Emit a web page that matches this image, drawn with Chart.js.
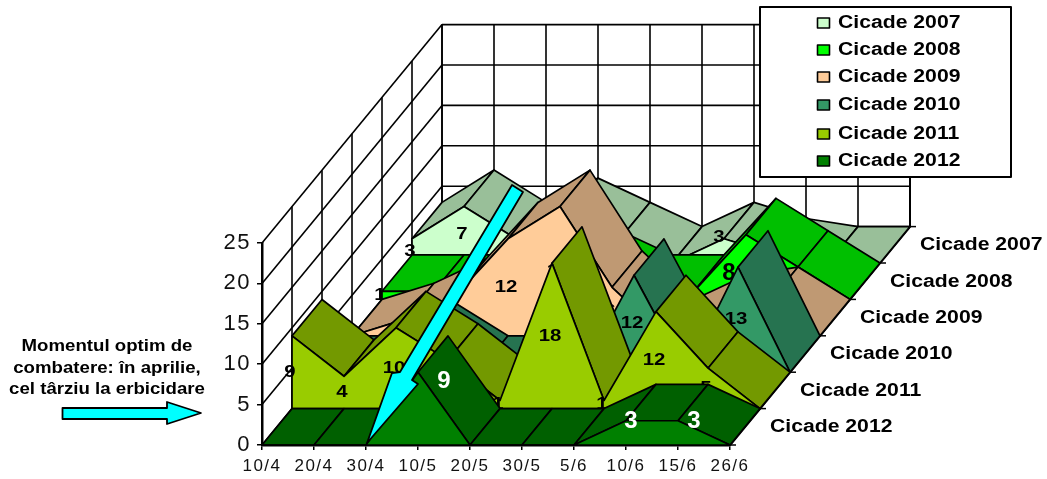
<!DOCTYPE html>
<html>
<head>
<meta charset="utf-8">
<title>Cicade</title>
<script src="https://cdn.jsdelivr.net/npm/chart.js@4/dist/chart.umd.min.js"></script>
<style>
  html, body { margin: 0; padding: 0; background: #fff; }
  canvas { display: block; }
</style>
</head>
<body>
<canvas id="chart" width="1047" height="479"></canvas>
<script>
// Dates and series, back row first
const categories = ['10/4', '20/4', '30/4', '10/5', '20/5', '30/5', '5/6', '10/6', '15/6', '26/6'];
const seriesNames = ['Cicade 2007', 'Cicade 2008', 'Cicade 2009', 'Cicade 2010', 'Cicade 2011', 'Cicade 2012'];

const cicade2007 = [3, 7, 3, 6, 3, 0, 3, 1, 0, 0];
const cicade2008 = [1, 1, 1, 1, 4, 1, 1, 8, 4, 0];
const cicade2009 = [0, 2, 5, 12, 16, 6, 0, 3, 4, 0];
const cicade2010 = [0, 0, 4, 0, 0, 0, 12, 0, 13, 0];
const cicade2011 = [9, 4, 10, 6, 1, 18, 1, 12, 5, 0];
const cicade2012 = [0, 0, 0, 9, 0, 0, 0, 3, 3, 0];

const seriesValues = [cicade2007, cicade2008, cicade2009, cicade2010, cicade2011, cicade2012];

const faceColors = ['#ccffcc', '#00ff00', '#ffcc99', '#339966', '#99cc00', '#008000'];
const topColors = ['#99bf99', '#00bf00', '#bf9973', '#267350', '#739900', '#006000'];

// Oblique projection: one row back moves a point this far on screen
const DEPTH_DX = 30;
const DEPTH_DY = 36.4;

const TEXT_FONT = '"Liberation Sans", Arial, sans-serif';

// Labels that sit away from the middle of their area
const labelTweaks = {
  '1,7': { dx: -15, dy: 6, size: 24 },
  '0,6': { dx: -3, dy: -14 },
  '5,3': { x: 444, y: 381, size: 24, color: '#fff' },
  '5,7': { x: 631, y: 421, size: 24, color: '#fff' },
  '5,8': { x: 694, y: 421, size: 24, color: '#fff' }
};

// Bold text stretched sideways, like the rest of the labels on this chart
function wideText(ctx, text, x, y, size, stretch, align, color) {
  ctx.save();
  ctx.font = 'bold ' + size + 'px ' + TEXT_FONT;
  ctx.fillStyle = color || '#000';
  ctx.textBaseline = 'middle';
  ctx.textAlign = align || 'left';
  ctx.translate(x, y);
  ctx.scale(stretch, 1);
  ctx.fillText(text, 0, 0);
  ctx.restore();
}

function polygon(ctx, pts, fill, lineWidth) {
  ctx.beginPath();
  pts.forEach((p, i) => (i ? ctx.lineTo(p[0], p[1]) : ctx.moveTo(p[0], p[1])));
  ctx.closePath();
  if (fill) {
    ctx.fillStyle = fill;
    ctx.fill();
  }
  ctx.lineWidth = lineWidth || 1.7;
  ctx.strokeStyle = '#000';
  ctx.lineJoin = 'round';
  ctx.stroke();
}

function segment(ctx, x1, y1, x2, y2, width) {
  ctx.beginPath();
  ctx.lineWidth = width;
  ctx.strokeStyle = '#000';
  ctx.moveTo(x1, y1);
  ctx.lineTo(x2, y2);
  ctx.stroke();
}

// Back wall, side wall and the right edge of the floor
function drawWalls(chart) {
  const ctx = chart.ctx;
  const xs = chart.scales.x;
  const ys = chart.scales.y;
  const rows = seriesNames.length;
  const backX = rows * DEPTH_DX;
  const backY = rows * DEPTH_DY;
  const base = ys.getPixelForValue(0);
  const top = ys.getPixelForValue(ys.max);

  ys.ticks.forEach(t => {
    const py = ys.getPixelForValue(t.value);
    segment(ctx, xs.left, py, xs.left + backX, py - backY, 1.6);
    segment(ctx, xs.left + backX, py - backY, xs.right + backX, py - backY, 1.6);
  });
  for (let k = 1; k <= rows; k++) {
    segment(ctx, xs.left + k * DEPTH_DX, base - k * DEPTH_DY, xs.left + k * DEPTH_DX, top - k * DEPTH_DY, 1.6);
  }
  categories.forEach((c, i) => {
    const px = xs.getPixelForValue(i) + backX;
    segment(ctx, px, base - backY, px, top - backY, i === categories.length - 1 ? 2 : 1.6);
  });

  segment(ctx, xs.right, base, xs.right + backX, base - backY, 2.4);
  for (let k = 0; k <= rows; k++) {
    const px = xs.right + k * DEPTH_DX;
    const py = base - k * DEPTH_DY;
    segment(ctx, px, py, px + 6, py, 1.5);
  }
}

// One ribbon per series, back row first so nearer rows cover it
function drawRibbons(chart) {
  const ctx = chart.ctx;
  const base = chart.scales.y.getPixelForValue(0);
  const rows = seriesNames.length;

  seriesValues.forEach((values, s) => {
    const k = rows - 1 - s;
    const points = chart.getDatasetMeta(s).data;
    const front = points.map(p => [p.x + k * DEPTH_DX, p.y - k * DEPTH_DY]);
    const back = front.map(p => [p[0] + DEPTH_DX, p[1] - DEPTH_DY]);

    for (let c = 0; c < front.length - 1; c++) {
      const ax = front[c + 1][0] - front[c][0];
      const ay = front[c + 1][1] - front[c][1];
      // slopes that face away are hidden behind the front of the ribbon
      if (ax * -DEPTH_DY - ay * DEPTH_DX >= 0) continue;
      polygon(ctx, [front[c], front[c + 1], back[c + 1], back[c]], topColors[s]);
    }

    const ground = base - k * DEPTH_DY;
    const outline = front.concat([[front[front.length - 1][0], ground], [front[0][0], ground]]);
    polygon(ctx, outline, faceColors[s]);

    values.forEach((v, c) => {
      if (!v) return;
      const tweak = labelTweaks[s + ',' + c] || {};
      const x = tweak.x !== undefined ? tweak.x : front[c][0] - 2 + (tweak.dx || 0);
      const y = tweak.y !== undefined ? tweak.y : (front[c][1] + ground) / 2 + (tweak.dy || 0);
      wideText(ctx, String(v), x, y, tweak.size || 17, tweak.size ? 1 : 1.2, 'center', tweak.color);
    });
  });
}

function drawRowNames(chart) {
  const xs = chart.scales.x;
  const base = chart.scales.y.getPixelForValue(0);
  const rows = seriesNames.length;
  seriesNames.forEach((name, s) => {
    const k = rows - 1 - s;
    wideText(chart.ctx, name, xs.right + (k + 0.5) * DEPTH_DX + 25, base - (k + 0.5) * DEPTH_DY + 0.5, 17.5, 1.21);
  });
}

function drawLegendBox(chart) {
  const ctx = chart.ctx;
  const rowY = [23, 50, 77, 105, 134, 161];
  ctx.fillStyle = '#fff';
  ctx.fillRect(760, 7, 251, 170);
  ctx.lineWidth = 2;
  ctx.strokeStyle = '#000';
  ctx.strokeRect(760, 7, 251, 170);
  chart.data.datasets.forEach((ds, s) => {
    ctx.fillStyle = faceColors[s];
    ctx.fillRect(817.5, rowY[s] - 5, 12, 10);
    ctx.lineWidth = 1.6;
    ctx.strokeRect(817.5, rowY[s] - 5, 12, 10);
    wideText(ctx, ds.label, 838, rowY[s] + 0.5, 17.5, 1.21);
  });
}

// The note on the left and the two cyan arrows
function drawNote(chart) {
  const ctx = chart.ctx;
  wideText(ctx, 'Momentul optim de', 107, 346, 16.5, 1.13, 'center');
  wideText(ctx, 'combatere: în aprilie,', 107, 368, 16.5, 1.13, 'center');
  wideText(ctx, 'cel târziu la erbicidare', 107, 389, 16.5, 1.13, 'center');

  polygon(ctx, [[62.5, 408], [167, 408], [167, 402], [201, 413], [167, 424], [167, 419], [62.5, 419]], '#00ffff', 1.8);
  polygon(ctx, [[512, 185], [523, 192], [412, 380], [418, 384], [367, 443], [392, 373], [400, 372]], '#00ffff', 1.8);
}

const ribbonPlugin = {
  id: 'ribbons',
  beforeDraw(chart) {
    chart.ctx.letterSpacing = '1.5px';
  },
  beforeDatasetsDraw(chart) {
    chart.ctx.letterSpacing = '0px';
    drawWalls(chart);
  },
  afterDatasetsDraw(chart) {
    drawRibbons(chart);
    drawRowNames(chart);
    drawLegendBox(chart);
    drawNote(chart);
  }
};

new Chart(document.getElementById('chart'), {
  type: 'line',
  data: {
    labels: categories,
    datasets: seriesNames.map((name, s) => ({
      label: name,
      data: seriesValues[s],
      backgroundColor: faceColors[s],
      borderColor: '#000',
      showLine: false,
      pointRadius: 0
    }))
  },
  options: {
    responsive: false,
    animation: false,
    layout: { padding: { left: 212, right: 317, top: 243, bottom: 4 } },
    plugins: {
      legend: { display: false },
      tooltip: { enabled: false }
    },
    scales: {
      x: {
        afterFit(scale) { scale.height = 30; },
        border: { color: '#000', width: 2.5 },
        grid: { drawOnChartArea: false, color: '#000', tickLength: 5, lineWidth: 1.5 },
        ticks: {
          color: '#111',
          font: { family: TEXT_FONT, size: 17 },
          autoSkip: false,
          maxRotation: 0,
          padding: 6
        }
      },
      y: {
        min: 0,
        max: 25,
        afterFit(scale) { scale.width = 50; },
        border: { color: '#000', width: 2.5 },
        grid: { drawOnChartArea: false, color: '#000', tickLength: 5, lineWidth: 1.5 },
        ticks: {
          stepSize: 5,
          color: '#111',
          font: { family: TEXT_FONT, size: 22 },
          padding: 6
        }
      }
    }
  },
  plugins: [ribbonPlugin]
});
</script>
</body>
</html>
